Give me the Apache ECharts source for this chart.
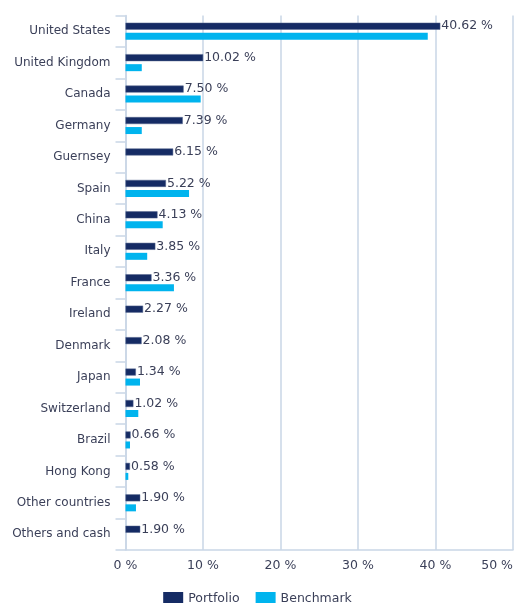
<!DOCTYPE html>
<html>
<head>
<meta charset="utf-8">
<script src="https://cdn.jsdelivr.net/npm/echarts@6/dist/echarts.min.js"></script>
<style>
html,body{margin:0;padding:0;background:#fff;}
#c{width:515px;height:603px;}
</style>
</head>
<body>
<div id="c"></div>
<script>
var categories = ["United States","United Kingdom","Canada","Germany","Guernsey","Spain","China","Italy","France","Ireland","Denmark","Japan","Switzerland","Brazil","Hong Kong","Other countries","Others and cash"];
var portfolio = [40.62,10.02,7.50,7.39,6.15,5.22,4.13,3.85,3.36,2.27,2.08,1.34,1.02,0.66,0.58,1.90,1.90];
var benchmark = [39.0,2.1,9.7,2.1,0,8.2,4.8,2.8,6.25,0,0,1.87,1.65,0.58,0.36,1.35,0];
var xTicks = [0,10,20,30,40,50];

var gridColor = '#c9d6e6';
var textColor = '#3a3f58';
var font = 'DejaVu Sans';

var chart = echarts.init(document.getElementById('c'));
chart.setOption({
  animation:false,
  textStyle:{fontFamily:font},
  grid:{left:125.5,right:2,top:15.5,bottom:53,containLabel:false,outerBoundsMode:'none'},
  legend:{
    top:587,left:'center',itemWidth:20,itemHeight:14,itemGap:16,icon:'rect',
    itemStyle:{borderWidth:0},
    textStyle:{color:textColor,fontSize:12.5,fontFamily:font},
    data:['Portfolio','Benchmark']
  },
  xAxis:{
    type:'value',min:xTicks[0],max:xTicks[xTicks.length-1],interval:10,
    axisLine:{show:true,lineStyle:{color:gridColor,width:1.5}},
    axisTick:{show:false},
    splitLine:{show:true,lineStyle:{color:gridColor,width:1.5}},
    axisLabel:{color:textColor,fontSize:12.5,fontFamily:font,margin:9,formatter:'{value} %',alignMaxLabel:'right'}
  },
  yAxis:{
    type:'category',data:categories,inverse:true,
    axisLine:{show:true,lineStyle:{color:gridColor,width:1.5}},
    axisTick:{show:true,length:10,lineStyle:{color:gridColor,width:1.5}},
    axisLabel:{color:textColor,fontSize:12,fontFamily:font,margin:15}
  },
  series:[
    {name:'Portfolio',type:'bar',data:portfolio,barWidth:7,barGap:'43%',
     itemStyle:{color:'#152b64',borderColor:'#54648c',borderWidth:0.5},
     label:{show:true,position:'right',distance:1,color:textColor,fontSize:12.5,fontFamily:font,
       formatter:function(p){return p.value.toFixed(2)+' %';}}},
    {name:'Benchmark',type:'bar',data:benchmark,barWidth:7,
     itemStyle:{color:'#00b4ee'}}
  ]
});
</script>
</body>
</html>
